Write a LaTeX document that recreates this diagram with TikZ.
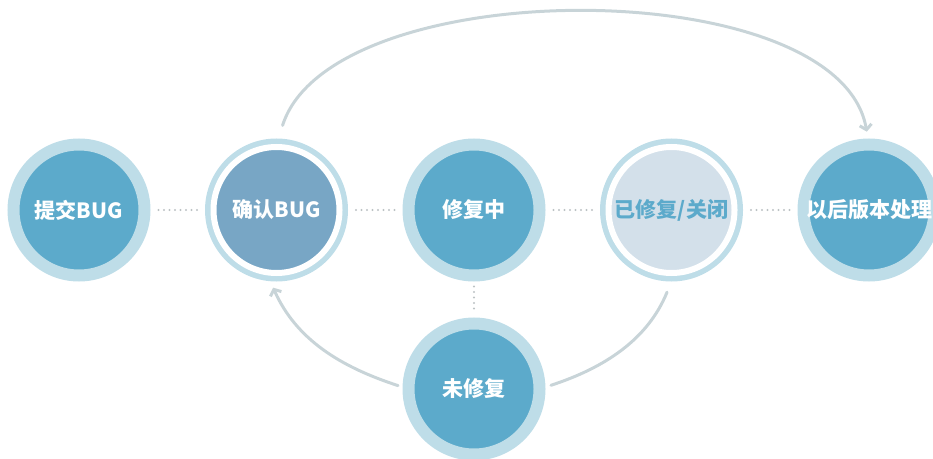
\documentclass[tikz,border=0pt]{standalone}
\usepackage{fontspec}
\newfontfamily\cjk{Noto Sans CJK SC}
\usepackage{xcolor}
\usepackage{tikz}
\usetikzlibrary{positioning,arrows.meta}

\definecolor{ringblue}{HTML}{BEDDE8}
\definecolor{stepblue}{HTML}{5CAACB}
\definecolor{checkblue}{HTML}{78A6C5}
\definecolor{doneblue}{HTML}{D3E0EA}
\definecolor{arcgrey}{HTML}{C8D4D8}
\definecolor{dotgrey}{HTML}{BCC2C4}

\newcommand{\steptext}[1]{\makebox[0pt]{#1}}

\tikzset{
	stepnode/.style={circle, minimum size=131pt, inner sep=0pt, outer sep=0pt,
		fill=stepblue, draw=ringblue, line width=12pt, text=white,
		font=\cjk\bfseries\fontsize{21}{25}\selectfont},
	ringnode/.style={stepnode, minimum size=126pt, outer sep=2.5pt,
		preaction={draw=ringblue, line width=17pt},
		draw=white, line width=6pt, fill=#1},
	dotline/.style={dotgrey, line width=2.2pt, line cap=round, dash pattern=on 0pt off 5.5pt,
		shorten <=14pt, shorten >=14pt},
	arcline/.style={arcgrey, line width=3pt, line cap=round},
	bugtip/.style={-{Straight Barb[length=5pt,width=12pt]}}
}

\begin{document}
\begin{tikzpicture}[x=1pt,y=1pt]
					\useasboundingbox (0,0) rectangle (933,458);
					\clip (0,0) rectangle (933,458);
					
					\node[stepnode](submit) at (79,248){\steptext{提交BUG}};
					\node[ringnode=checkblue, right = 66.5pt of submit](confirm){\steptext{确认BUG}};
					\node[stepnode, right = 66.5pt of confirm](fixing){\steptext{修复中}};
					\node[ringnode=doneblue, text=stepblue, right = 66.5pt of fixing](fixed){\steptext{已修复/关闭}};
					\node[stepnode, right = 66.5pt of fixed](later){\steptext{以后版本处理}};
					\node[stepnode, below = 48pt of fixing](unfixed){\steptext{未修复}};
					
					\draw[dotline] (submit) -- (confirm);
					\draw[dotline] (confirm) -- (fixing);
					\draw[dotline] (fixing) -- (fixed);
					\draw[dotline] (fixed) -- (later);
					\draw[dotline, shorten <=11pt, shorten >=11pt] (fixing) -- (unfixed);
					
					\draw[arcline, bugtip, shorten <=20pt, shorten >=13pt] (confirm.north) .. controls +(55,173) and +(-30,173) .. (later.north);
					\draw[arcline, shorten <=18pt, shorten >=12pt] (fixed.272) to[out=-112, in=18] (unfixed.east);
					\draw[arcline, bugtip, shorten <=11pt, shorten >=14pt] (unfixed.west) to[out=162, in=-66] (confirm.262);
				\end{tikzpicture}
\end{document}
